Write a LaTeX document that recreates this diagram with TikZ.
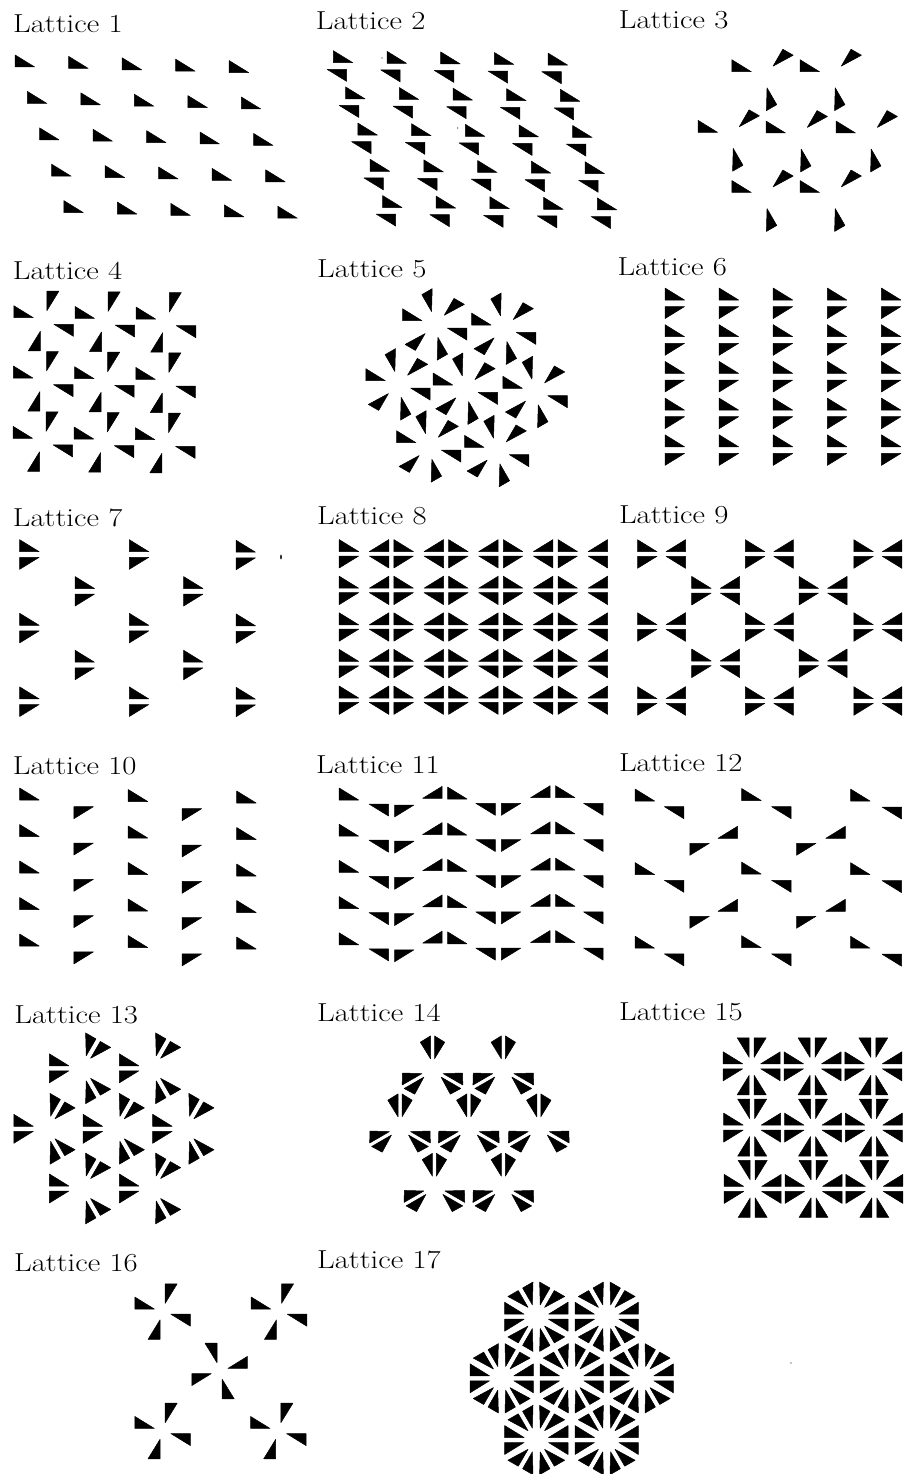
\documentclass[tikz,border=0pt]{standalone}
\usepackage{amsmath}
\usepackage{tikz}
\tikzset{
  lat/.style={font=\fontsize{26}{26}\selectfont,anchor=base west,inner sep=0pt,xscale=1.18,transform shape},
  wedge/.style={fill=black,draw=black,line width=0.5pt,line join=round},
  speck/.style={fill=black,draw=none},
}
\newcommand{\orb}[6][]{\foreach \rt/\sg in {#6}{\path[wedge,shift={({#2},{#3})},rotate=\rt,yscale=\sg,shift={(#4,#5)},#1] (0,0) -- (-19.5,0) -- (-19.5,-12) -- cycle;}}
\begin{document}
\begin{tikzpicture}[x=1pt,y=-1pt]
\useasboundingbox (0,0) rectangle (904,1474);
\node[lat] (l1) at (13,33) {Lattice 1};
\node[lat] (l2) at (315.7,29.5) {Lattice 2};
\node[lat] (l3) at (618.7,28.5) {Lattice 3};
\node[lat] (l4) at (12.6,279.5) {Lattice 4};
\node[lat] (l5) at (316.9,277) {Lattice 5};
\node[lat] (l6) at (617.3,275.5) {Lattice 6};
\node[lat] (l7) at (12.7,526) {Lattice 7};
\node[lat] (l8) at (317,524.5) {Lattice 8};
\node[lat] (l9) at (618.8,523.5) {Lattice 9};
\node[lat] (l10) at (12.7,774.5) {Lattice 10};
\node[lat] (l11) at (316,773.5) {Lattice 11};
\node[lat] (l12) at (618.8,771.5) {Lattice 12};
\node[lat] (l13) at (14.2,1023.5) {Lattice 13};
\node[lat] (l14) at (317,1021.5) {Lattice 14};
\node[lat] (l15) at (619,1020.5) {Lattice 15};
\node[lat] (l16) at (14,1271.5) {Lattice 16};
\node[lat] (l17) at (317,1268.5) {Lattice 17};
\foreach \i in {0,...,4} \foreach \j in {0,...,4} {
  \orb{34.7+53.5*\i+12.15*\j}{67+1.4*\i+36.4*\j}{0}{0}{0/1}
  \orb{339.9+53.7*\i+12.3*\j}{66+0.6*\i+36.2*\j}{12.9}{-3.3}{0/1,180/1}
  \orb{684.5+54.1*\i}{303.3+36.7*\j}{0}{-3.3}{0/1,0/-1}
  \orb{364+54.7*\i}{553.8+36.6*\j}{-5.3}{-2.2}{0/1,0/-1,180/1,180/-1}
}
\foreach \x/\y in {763.8/75.2,832/75.2,730/135.8,798/136.5,868/136.5,763.8/196,832/196}
  {\orb{\x}{\y}{-12.5}{-3.5}{0/1,-120/1,-240/1}}
\foreach \i in {0,1,2} \foreach \j in {0,1,2}
  {\orb{43.6+61.2*\i-0.4*\j}{321+0.7*\i+60.3*\j}{-10.3}{-3.3}{0/1,-90/1,-180/1,-270/1}}
\foreach \x/\y in {434.7/324.4,503.7/328.7,398/384.4,465.4/388.7,535.1/392,428.7/446.4,496.7/451}
  {\orb{\x}{\y}{-12.7}{-3.7}{0/1,60/1,120/1,180/1,240/1,300/1}}
\foreach \x/\y in {39.2/554.5,148.8/554.5,255.5/555,94.5/591.3,203/591.3,39.2/628.1,148.8/628.1,255.5/628.6,94.5/665,203/665,39.2/701.7,148.8/701.7,255.5/702}
  {\orb{\x}{\y}{0}{-2.8}{0/1,0/-1}}
\foreach \x/\y in {661.5/554,769.3/554,877.8/554,715.7/590.7,823/590.7,661.5/627,769.3/627,877.8/627,715.7/663.3,823/663.3,661.5/701,769.3/701,877.8/701}
  {\orb{\x}{\y}{-4.5}{-2.3}{0/1,0/-1,180/1,180/-1}}
\foreach \j in {0,...,4} {
  \foreach \k in {0,1,2} {\orb{39.2+108.5*\k}{800+1.5*\k+36.5*\j}{0}{0}{0/1}}
  \foreach \k in {0,1} {\orb{93.4+108.2*\k}{806.7+2*\k+36.3*\j}{0}{0}{0/-1}}
  \foreach \x/\y/\a/\b in {358.7/800/0/1,369/804/180/1,414/805/0/-1,422.7/798.3/180/-1,467/799/0/1,475.8/803.3/180/1,520.8/803.3/0/-1,530.6/797.7/180/-1,575/797.7/0/1,583.6/803.3/180/1}
    {\orb{\x}{\y+36.2*\j}{0}{0}{\a/\b}}
}
\foreach \m in {0,1,2}
  \foreach \x/\y/\a in {654.6/801/0,761.2/800.5/0,870/801/0,664.4/806.7/180,771.6/806.7/180,882/807/180}
    {\orb{\x}{\y+73.6*\m}{0}{0}{\a/1}}
\foreach \m in {0,1}
  \foreach \x/\y/\a in {718/838.3/180,709.3/843.3/0,825.8/838.3/180,816/843.3/0}
    {\orb{\x}{\y+73*\m}{0}{0}{\a/-1}}
\foreach \x/\y in {81.9/1068.3,151.9/1068.3,46.3/1128.8,115.6/1128.8,185.2/1128.8,81.9/1188.5,151.9/1188.5}
  {\orb{\x}{\y}{-13}{-2.5}{0/1,0/-1,-120/1,-120/-1,-240/1,-240/-1}}
\foreach \x/\y in {432.5/1069.8,503.3/1069.8,400/1127.8,468.8/1127.8,538.8/1127.8,434.4/1187.2,503.3/1187.2}
  {\orb[rotate=-31.6,yscale=-1]{\x}{\y}{-11}{-2}{-90/1,-90/-1,30/1,30/-1,150/1,150/-1}}
\foreach \i in {0,1,2} \foreach \j in {0,1,2}
  {\orb{751.7+60.8*\i+0.5*\j}{1066.3+61.3*\j}{-9}{-2.5}{0/1,0/-1,90/1,90/-1,180/1,180/-1,270/1,270/-1}}
\foreach \x/\y in {162.6/1311.6,279/1311.6,162.6/1431,278.3/1431}
  {\orb{\x}{\y}{-8.3}{-2.6}{0/1,-90/1,-180/1,-270/1}}
\orb{219.6}{1371}{-8.3}{-2.6}{0/-1,90/-1,180/-1,270/-1}
\foreach \x/\y in {536.3/1316.7,606.7/1316.7,501.7/1378.3,571.7/1378.3,641.7/1378.3,536.3/1440,606.7/1440}
  {\orb{\x}{\y}{-12.2}{-2.5}{0/1,0/-1,60/1,60/-1,120/1,120/-1,180/1,180/-1,240/1,240/-1,300/1,300/-1}}
\fill[speck] (281,557) ellipse (0.8 and 2.5);
\fill[speck] (382,58) circle (0.7);
\fill[speck] (457.7,128) circle (0.7);
\fill[speck] (791,1363) circle (0.7);
\end{tikzpicture}
\end{document}
